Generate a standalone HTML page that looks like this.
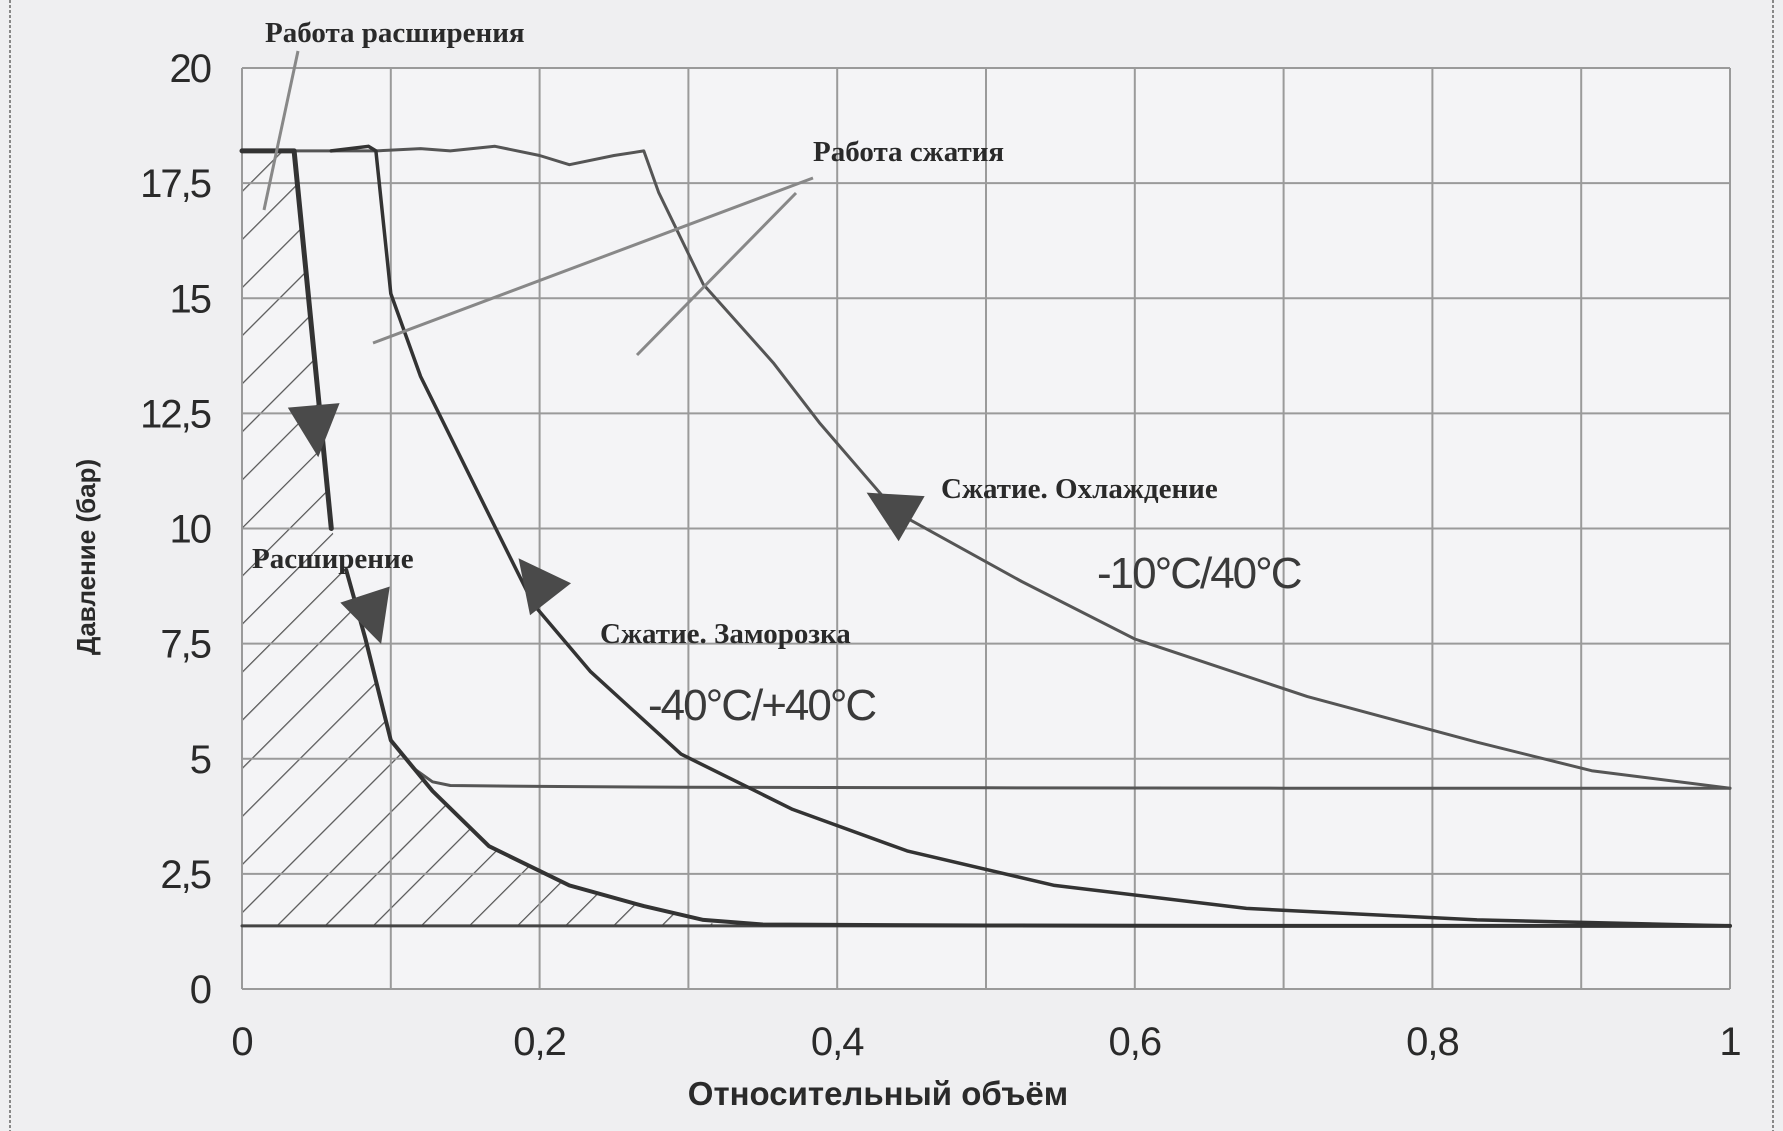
<!DOCTYPE html>
<html><head><meta charset="utf-8"><style>
html,body{margin:0;padding:0;background:#efeff1;}
svg{display:block;}
text{font-family:"Liberation Sans",sans-serif;fill:#2a2a2a;}
</style></head><body>
<svg id="chart" width="1783" height="1131" viewBox="0 0 1783 1131" xmlns="http://www.w3.org/2000/svg">
<defs>
<pattern id="hatch" patternUnits="userSpaceOnUse" width="34" height="34" patternTransform="rotate(45)">
<line x1="0" y1="0" x2="0" y2="34" stroke="#555" stroke-width="2.5"/>
</pattern>
</defs>
<rect x="0" y="0" width="1783" height="1131" fill="#efeff1"/>
<line x1="10" y1="0" x2="10" y2="1131" stroke="#888" stroke-width="2" stroke-dasharray="3 2"/>
<line x1="1773" y1="0" x2="1773" y2="1131" stroke="#888" stroke-width="2" stroke-dasharray="3 2"/>
<rect x="242" y="68" width="1488" height="921" fill="#f4f4f6"/>
<g id="hatchG"></g>
<g id="grid"></g>
<g id="series"></g>
<g id="ticks"></g>
<g id="annot"></g>
</svg>
<script>
const xTicks=[0,0.1,0.2,0.3,0.4,0.5,0.6,0.7,0.8,0.9,1];
const xTickLabels=["0","","0,2","","0,4","","0,6","","0,8","","1"];
const yTicks=[0,2.5,5,7.5,10,12.5,15,17.5,20];
const yTickLabels=["0","2,5","5","7,5","10","12,5","15","17,5","20"];
// expansion line (top, thick) : volume, pressure
const expTopX=[0,0.035,0.06];
const expTopY=[18.2,18.2,10];
// expansion curve lower
const expLowX=[0.07,0.083,0.1,0.128,0.166,0.22,0.27,0.31,0.35,0.5,0.7,1.0];
const expLowY=[9.1,7.6,5.4,4.3,3.1,2.25,1.8,1.5,1.4,1.38,1.37,1.37];
// expansion branch to 4.36 bar
const expHighX=[0.1,0.115,0.128,0.14,0.2,0.3,0.5,0.7,1.0];
const expHighY=[5.4,4.8,4.5,4.42,4.4,4.38,4.37,4.36,4.36];
// compression freeze -40/+40
const compFreezeX=[1.0,0.83,0.675,0.546,0.447,0.37,0.295,0.234,0.196,0.169,0.143,0.12,0.1,0.09,0.085,0.06];
const compFreezeY=[1.37,1.5,1.75,2.25,3.0,3.9,5.1,6.9,8.35,10.1,11.8,13.3,15.1,18.2,18.3,18.2];
// compression cooling -10/40
const compCoolX=[1.0,0.907,0.83,0.716,0.6,0.524,0.44,0.388,0.357,0.31,0.28,0.27,0.25,0.22,0.2,0.17,0.14,0.12,0.09,0.035];
const compCoolY=[4.36,4.74,5.36,6.35,7.6,8.85,10.35,12.3,13.6,15.3,17.3,18.2,18.1,17.9,18.1,18.3,18.2,18.25,18.2,18.2];
const baseX=[0,1];
const baseY=[1.37,1.37];

const X0=242,X1=1730,Y0=989,Y1=68;
function sx(v){return X0+v*(X1-X0);}
function sy(p){return Y0-p*(Y0-Y1)/20;}
const NS="http://www.w3.org/2000/svg";
function mk(tag,attrs,parent){const e=document.createElementNS(NS,tag);for(const k in attrs)e.setAttribute(k,attrs[k]);parent.appendChild(e);return e;}
function pts(xs,ys){return xs.map((x,i)=>sx(x).toFixed(1)+","+sy(ys[i]).toFixed(1)).join(" ");}

const grid=document.getElementById('grid');
xTicks.forEach((t,i)=>{
  const l=mk('line',{x1:sx(t),x2:sx(t),y1:Y1,y2:Y0,stroke:'#9a9a9a','stroke-width':2},grid);
  
  
});
yTicks.forEach((t,i)=>{
  const l=mk('line',{x1:X0,x2:X1,y1:sy(t),y2:sy(t),stroke:'#9a9a9a','stroke-width':2},grid);
  
  
});

const hg=document.getElementById('hatchG');
let hx=expTopX.concat(expLowX.slice(0,8)).concat([0.32,0]);
let hy=expTopY.concat(expLowY.slice(0,8)).concat([1.37,1.37]);
const hp=mk('polygon',{points:pts(hx,hy),fill:'url(#hatch)',stroke:'none'},hg);



const ser=document.getElementById('series');
function line(xs,ys,name,w,c){
  const p=mk('polyline',{points:pts(xs,ys),fill:'none',stroke:c,'stroke-width':w,'stroke-linejoin':'round','stroke-linecap':'round'},ser);
  
  
}
line(baseX,baseY,'baseline-line',3,'#444');
line(compCoolX,compCoolY,'compression-cooling-line',3,'#555');
line(expHighX,expHighY,'expansion-high-line',3,'#555');
line(compFreezeX,compFreezeY,'compression-freeze-line',3.5,'#333');
line(expLowX,expLowY,'expansion-low-line',4,'#333');
line(expTopX,expTopY,'expansion-top-line',5,'#333');

function arrow(cx,cy,ang,name){
  const g=mk('polygon',{points:"-8,-26 -8,26 44,0",fill:'#4a4a4a',transform:`translate(${cx},${cy}) rotate(${ang})`},ser);
  
  
}
arrow(sx(0.05)-2,sy(12.5),85,'arrow-expansion-top');
arrow(sx(0.083)+2,sy(8.4),72,'arrow-expansion-low');
arrow(sx(0.2)+6,sy(8.6),-128,'arrow-compression-freeze');
arrow(sx(0.44)+8,sy(10.3),-150,'arrow-compression-cooling');

const tk=document.getElementById('ticks');
yTicks.forEach((t,i)=>{
  const e=mk('text',{x:210,y:sy(t)+14,'text-anchor':'end','font-size':40,'letter-spacing':-2},tk);
  e.textContent=yTickLabels[i];
  
  
});
xTicks.forEach((t,i)=>{
  if(!xTickLabels[i])return;
  const e=mk('text',{x:sx(t),y:1055,'text-anchor':'middle','font-size':40,'letter-spacing':-1},tk);
  e.textContent=xTickLabels[i];
  
  
});
</script>
<svg style="position:absolute;left:0;top:0" width="1783" height="1131">
<text x="878" y="1105" text-anchor="middle" font-size="33" font-weight="bold" style="font-family:'Liberation Sans',sans-serif;fill:#2a2a2a">Относительный объём</text>
<text transform="translate(95,557) rotate(-90)" text-anchor="middle" font-size="26" font-weight="bold" style="font-family:'Liberation Sans',sans-serif;fill:#2a2a2a">Давление (бар)</text>
<text x="265" y="42" font-size="29" font-weight="bold" style="font-family:'Liberation Serif',serif;fill:#2a2a2a">Работа расширения</text>
<line x1="298" y1="51" x2="264" y2="210" stroke="#888" stroke-width="3"/>
<text x="813" y="161" font-size="29" font-weight="bold" style="font-family:'Liberation Serif',serif;fill:#2a2a2a">Работа сжатия</text>
<line x1="813" y1="178" x2="373" y2="343" stroke="#888" stroke-width="3"/>
<line x1="796" y1="193" x2="637" y2="355" stroke="#888" stroke-width="3"/>
<text x="252" y="568" font-size="29" font-weight="bold" style="font-family:'Liberation Serif',serif;fill:#2a2a2a">Расширение</text>
<text x="941" y="498" font-size="29" font-weight="bold" style="font-family:'Liberation Serif',serif;fill:#2a2a2a">Сжатие. Охлаждение</text>
<text x="1097" y="588" font-size="44" style="font-family:'Liberation Sans',sans-serif;fill:#3a3a3a" letter-spacing="-2">-10°C/40°C</text>
<text x="600" y="643" font-size="29" font-weight="bold" style="font-family:'Liberation Serif',serif;fill:#2a2a2a">Сжатие. Заморозка</text>
<text x="648" y="720" font-size="44" style="font-family:'Liberation Sans',sans-serif;fill:#3a3a3a" letter-spacing="-2">-40°C/+40°C</text>
</svg>
</body></html>
